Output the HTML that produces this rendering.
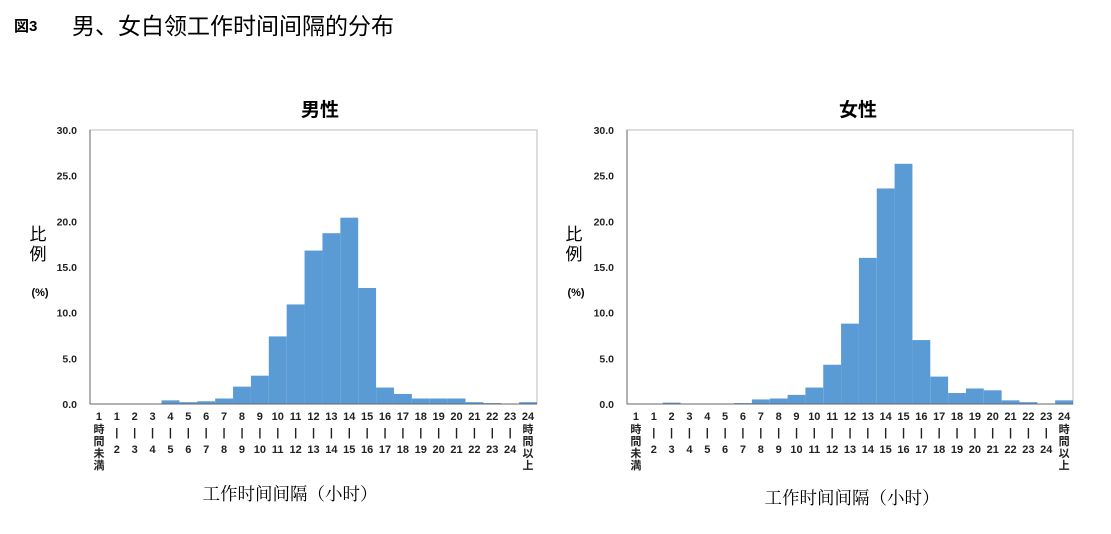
<!DOCTYPE html>
<html><head><meta charset="utf-8"><style>
html,body{margin:0;padding:0;background:#fff;width:1111px;height:534px;overflow:hidden}
svg{display:block}
text{font-family:"Liberation Sans","Noto Sans CJK JP",sans-serif}
</style></head><body>
<svg id="s" width="1111" height="534" xmlns="http://www.w3.org/2000/svg">
<text x="14" y="31" font-size="15" font-weight="bold">図3</text>
<text x="72" y="34" font-size="23" style="font-family:'Liberation Sans','Noto Sans CJK SC',sans-serif">男、女白领工作时间间隔的分布</text>
<text x="320" y="116" font-size="19" font-weight="bold" text-anchor="middle">男性</text>
<text x="858" y="116" font-size="19" font-weight="bold" text-anchor="middle">女性</text>
<text x="290" y="500" font-size="17.5" text-anchor="middle" style="font-family:'Liberation Serif','Noto Serif CJK SC',serif">工作时间间隔（小时）</text>
<text x="852" y="504" font-size="17.5" text-anchor="middle" style="font-family:'Liberation Serif','Noto Serif CJK SC',serif">工作时间间隔（小时）</text>
<text x="38" y="240" font-size="17" text-anchor="middle">比</text>
<text x="38" y="260" font-size="17" text-anchor="middle">例</text>
<text x="40" y="296" font-size="11" text-anchor="middle" font-weight="bold">(%)</text>
<text x="574" y="240" font-size="17" text-anchor="middle">比</text>
<text x="574" y="260" font-size="17" text-anchor="middle">例</text>
<text x="576" y="296" font-size="11" text-anchor="middle" font-weight="bold">(%)</text>
</svg>
<script>
var s=document.getElementById('s'),NS='http://www.w3.org/2000/svg';
function el(t,a,txt){var e=document.createElementNS(NS,t);for(var k in a)e.setAttribute(k,a[k]);if(txt!=null)e.textContent=txt;s.appendChild(e);return e;}
function chart(x0,x1,vals){
 var y0=404,yt=130,sc=(y0-yt)/30,w=(x1-x0)/25;
 el('rect',{x:x0,y:yt,width:x1-x0,height:y0-yt,fill:'none',stroke:'#bbb','stroke-width':1});
 for(var i=0;i<=6;i++){var v=i*5,y=y0-v*sc;
  el('text',{x:x0-13,y:y+4,'font-size':10.5,'font-weight':'bold','text-anchor':'end',fill:'#222'},v.toFixed(1));}
 el('line',{x1:x0,y1:yt,x2:x0,y2:y0,stroke:'#666'});
 for(var i=0;i<25;i++){var h=vals[i]*sc;if(h>0)el('rect',{x:x0+i*w,y:y0-h,width:w,height:h,fill:'#5b9bd5'});}
 el('line',{x1:x0,y1:y0,x2:x1,y2:y0,stroke:'#666'});
 for(var i=0;i<25;i++){var cx=x0+i*w+w/2,lines,ys;
  if(i==0||i==24){lines=[i==0?'1':'24','時','間',i==0?'未':'以',i==0?'満':'上'];ys=[420,433,445,457,469];}
  else {lines=[''+i,'|',''+(i+1)];ys=[420,436,453];}
  for(var j=0;j<lines.length;j++)el('text',{x:cx,y:ys[j],'font-size':11,'font-weight':'bold','text-anchor':'middle',fill:'#222'},lines[j]);}
}
chart(90,537,[0,0,0,0.05,0.4,0.2,0.3,0.6,1.9,3.1,7.4,10.9,16.8,18.7,20.4,12.7,1.8,1.1,0.6,0.6,0.6,0.2,0.1,0.05,0.2]);
chart(627,1073,[0,0,0.15,0,0.05,0.05,0.1,0.5,0.6,1.0,1.8,4.3,8.8,16.0,23.6,26.3,7.0,3.0,1.2,1.7,1.5,0.4,0.2,0.05,0.4]);
</script>
</body></html>
